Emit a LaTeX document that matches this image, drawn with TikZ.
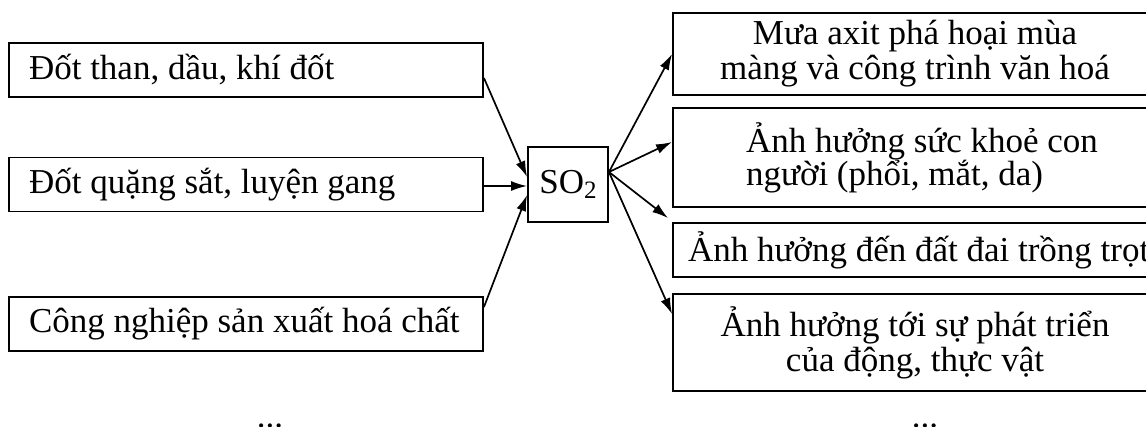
\documentclass[tikz,border=0pt]{standalone}
\usepackage{fontspec}
\setmainfont{Liberation Serif}
\usetikzlibrary{arrows.meta}
\begin{document}
\begin{tikzpicture}[x=1pt,y=-1pt,
  box/.style={draw=black, line width=1.9pt, rectangle, font=\fontsize{35}{35}\selectfont, inner ysep=0pt},
  lbox/.style={box, minimum width=474pt, minimum height=54pt, inner xsep=0pt},
  rbox/.style={box, minimum width=484pt, inner xsep=0pt},
  arr/.style={line width=1.7pt, -{Latex[length=16pt,width=10pt]}},
  dots/.style={font=\fontsize{35}{35}\selectfont, inner sep=0pt, anchor=base}
]
\useasboundingbox (0,0) rectangle (1146,426);
\fill[white] (0,0) rectangle (1146,426);

\node[lbox] (l1) at (246,70) {\makebox[434pt][l]{Đốt than, dầu, khí đốt}};
\node[lbox] (l2) at (246,184.5) {\makebox[434pt][l]{Đốt quặng sắt, luyện gang}};
\node[lbox] (l3) at (246,324) {\makebox[434pt][l]{Công nghiệp sản xuất hoá chất}};

\node[box, minimum width=80pt, minimum height=75pt, inner xsep=0pt] (so) at (568,184.5) {SO\raisebox{-0.35ex}{\fontsize{25}{25}\selectfont 2}};

\node[rbox, minimum height=82pt, align=center] (r1) at (915,54) {Mưa axit phá hoại mùa\\màng và công trình văn hoá};
\node[rbox, minimum height=99pt, align=left] (r2) at (915,157.5) {\hspace*{14pt}Ảnh hưởng sức khoẻ con\\[-2pt]\hspace*{14pt}người (phổi, mắt, da)};
\node[rbox, minimum height=54pt] (r3) at (915,250) {\makebox[454pt][l]{Ảnh hưởng đến đất đai trồng trọt}};
\node[rbox, minimum height=97pt, align=center] (r4) at (915,342.5) {Ảnh hưởng tới sự phát triển\\của động, thực vật};

\draw[arr] ([yshift=-8pt]l1.east) -- ([yshift=7.5pt]so.west);
\draw[arr] ([yshift=-1.5pt]l2.east) -- ([yshift=-1.5pt]so.west);
\draw[arr] ([yshift=17pt]l3.east) -- ([yshift=-10.5pt]so.west);

\coordinate (s) at ([yshift=12.5pt]so.east);
\draw[arr] (s) -- (r1.west);
\draw[arr] (s) -- ([yshift=15.5pt]r2.west);
\draw[arr] (s) -- ([xshift=-4pt,yshift=4pt]r3.north west);
\draw[arr] (s) -- ([yshift=-21pt]r4.north west);

\node[dots] (d1) at (270,427.5) {...};
\node[dots] (d2) at (925,427.5) {...};
\end{tikzpicture}
\end{document}
